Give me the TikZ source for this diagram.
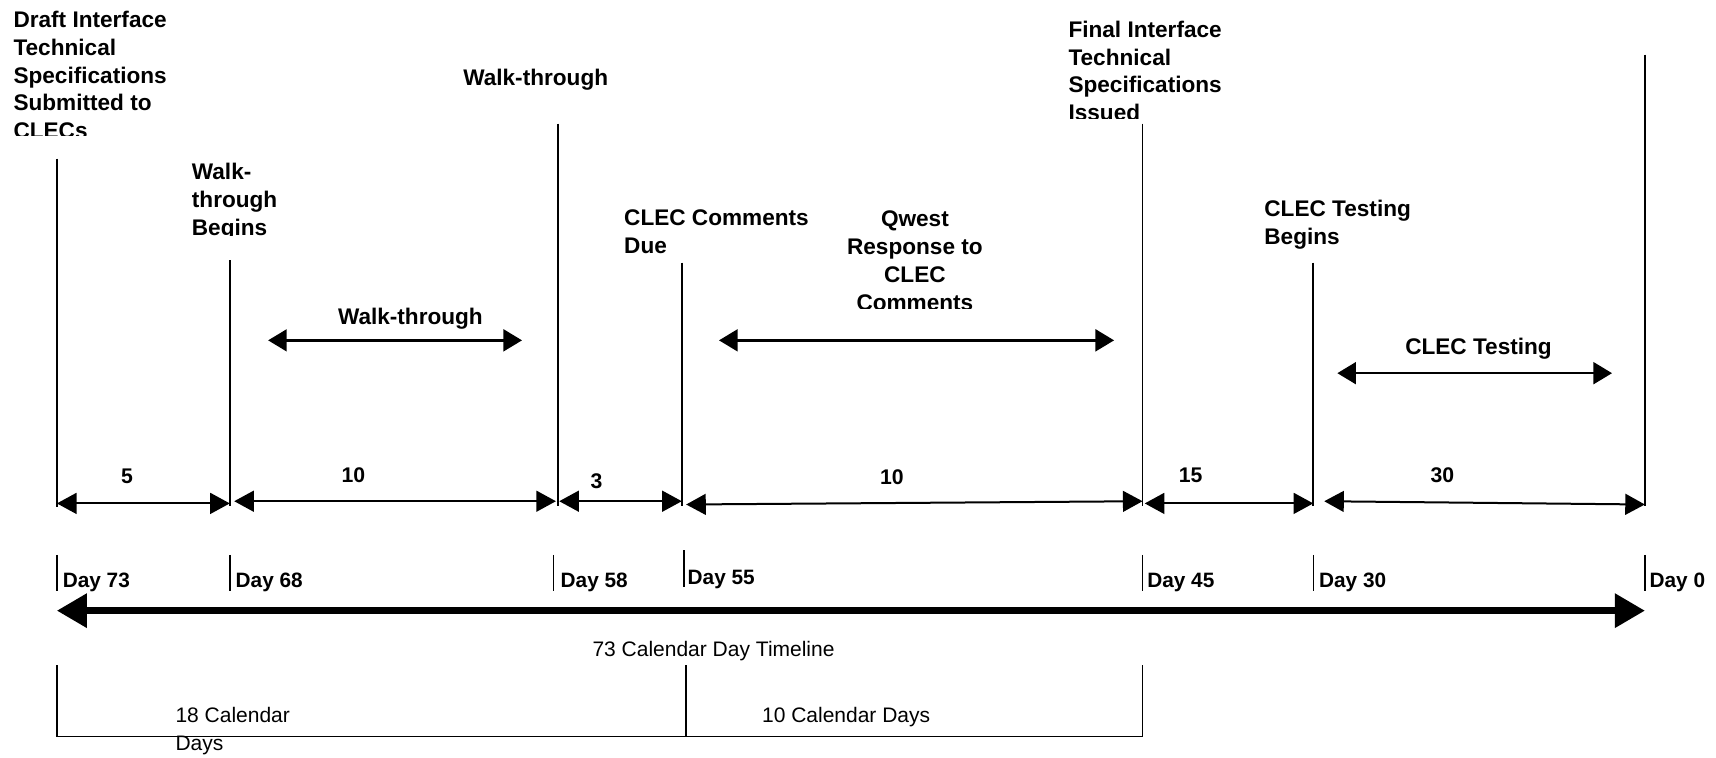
\documentclass[tikz,border=0pt]{standalone}
\usepackage{fontspec}
\setmainfont{Liberation Sans}
\usetikzlibrary{arrows.meta}
\begin{document}
\begin{tikzpicture}[x=0.5472pt,y=-0.5472pt,
  toplbl/.style={inner sep=0pt, font=\fontsize{11.3}{13.95}\selectfont\bfseries, align=left, anchor=north west},
  midlbl/.style={inner sep=0pt, font=\fontsize{11.3}{13.95}\selectfont\bfseries},
  numlbl/.style={inner sep=0pt, font=\fontsize{10.6}{12}\selectfont\bfseries},
  daylbl/.style={inner sep=0pt, font=\fontsize{10.4}{12}\selectfont\bfseries, anchor=base west},
  reglbl/.style={inner sep=0pt, font=\fontsize{10.5}{14.2}\selectfont, align=left},
  vline/.style={line width=0.8pt},
  tick/.style={line width=0.7pt},
  dimarrow/.style={line width=1pt, {Triangle[length=9.8pt,width=10.4pt]}-{Triangle[length=9.8pt,width=10.4pt]}},
  midarrow/.style={line width=1.2pt, {Triangle[length=9.3pt,width=10.9pt]}-{Triangle[length=9.3pt,width=10.9pt]}},
  mainarrow/.style={line width=3.2pt, {Triangle[length=15pt,width=16.5pt]}-{Triangle[length=15pt,width=16.5pt]}},
  bracket/.style={line width=0.8pt}
]
\useasboundingbox (0,0) rectangle (1568,692);

% milestone vertical lines
\coordinate (t73) at (52,145);   \coordinate (b73) at (52,463);
\coordinate (t68) at (210,238);  \coordinate (b68) at (210,462);
\coordinate (t58) at (510,113);  \coordinate (b58) at (510,462);
\coordinate (t55) at (623,240);  \coordinate (b55) at (623,462);
\coordinate (t45) at (1044,113); \coordinate (b45) at (1044,462);
\coordinate (t30) at (1200,240); \coordinate (b30) at (1200,462);
\coordinate (t0)  at (1503,50);  \coordinate (b0)  at (1503,462);
\foreach \n in {73,68,58,55,45,30,0} \draw[vline] (t\n) -- (b\n);

% milestone labels
\begin{scope}
  \clip (0,0) rectangle (400,124);
  \node[toplbl] (draft) at (12,9.6) {Draft Interface\\Technical\\Specifications\\Submitted to\\CLECs};
\end{scope}
\begin{scope}
  \clip (150,130) rectangle (400,215);
  \node[toplbl] (wtbegins) at (175,148.6) {Walk-\\through\\Begins};
\end{scope}
\node[toplbl] (wttop) at (423,62.6) {Walk-through};
\node[toplbl] (ccdue) at (570,191.6) {CLEC Comments\\Due};
\begin{scope}
  \clip (700,150) rectangle (980,281.5);
  \node[midlbl, align=center, anchor=north] (qwest) at (836,192.6) {Qwest\\Response to\\CLEC\\Comments};
\end{scope}
\begin{scope}
  \clip (960,0) rectangle (1300,108);
  \node[toplbl] (final) at (976,18.6) {Final Interface\\Technical\\Specifications\\Issued};
\end{scope}
\node[toplbl] (ctbegins) at (1155,182.6) {CLEC Testing\\Begins};

% activity arrows
\node[midlbl] (wtmid) at (375,291) {Walk-through};
\coordinate (wtl) at (245,311); \coordinate (wtr) at (477,311);
\draw[midarrow] (wtl) -- (wtr);
\coordinate (qwl) at (657,311); \coordinate (qwr) at (1018,311);
\draw[midarrow] (qwl) -- (qwr);
\node[midlbl] (ctmid) at (1351,319) {CLEC Testing};
\coordinate (ctl) at (1222,341); \coordinate (ctr) at (1473,341);
\draw[midarrow] (ctl) -- (ctr);

% duration dimension arrows
\coordinate (d1l) at (52,460);   \coordinate (d1r) at (210,460);
\coordinate (d2l) at (214,458);  \coordinate (d2r) at (508,458);
\coordinate (d3l) at (511,458);  \coordinate (d3r) at (623,458);
\coordinate (d4l) at (627,461);  \coordinate (d4r) at (1044,458);
\coordinate (d5l) at (1046,460); \coordinate (d5r) at (1200,460);
\coordinate (d6l) at (1210,458); \coordinate (d6r) at (1503,461);
\foreach \i in {1,...,6} \draw[dimarrow] (d\i l) -- (d\i r);
\node[numlbl] (n5)  at (116,435) {5};
\node[numlbl] (n10a) at (323,434) {10};
\node[numlbl] (n3)  at (545,440) {3};
\node[numlbl] (n10b) at (815,436) {10};
\node[numlbl] (n15) at (1088,434) {15};
\node[numlbl] (n30) at (1318,434) {30};

% day ticks and labels
\coordinate (k73u) at (52,507);   \coordinate (k73d) at (52,540);
\coordinate (k68u) at (210,507);  \coordinate (k68d) at (210,540);
\coordinate (k58u) at (506,507);  \coordinate (k58d) at (506,540);
\coordinate (k55u) at (625,503);  \coordinate (k55d) at (625,536);
\coordinate (k45u) at (1044,507); \coordinate (k45d) at (1044,540);
\coordinate (k30u) at (1200,507); \coordinate (k30d) at (1200,540);
\coordinate (k0u)  at (1503,507); \coordinate (k0d)  at (1503,540);
\foreach \n in {73,68,58,55,45,30,0} \draw[tick] (k\n u) -- (k\n d);
\node[daylbl] (day73) at (57,537) {Day 73};
\node[daylbl] (day68) at (215,537) {Day 68};
\node[daylbl] (day58) at (512,537) {Day 58};
\node[daylbl] (day55) at (628,534) {Day 55};
\node[daylbl] (day45) at (1048,537) {Day 45};
\node[daylbl] (day30) at (1205,537) {Day 30};
\node[daylbl] (day0)  at (1507,537) {Day 0};

% main timeline
\coordinate (ml) at (52,558); \coordinate (mr) at (1503,558);
\draw[mainarrow] (ml) -- (mr);
\node[reglbl, anchor=base] (timeline) at (652,600) {73 Calendar Day Timeline};

% bottom bracket
\coordinate (bA) at (52,608);   \coordinate (bAd) at (52,673);
\coordinate (bB) at (627,608);  \coordinate (bBd) at (627,673);
\coordinate (bC) at (1044,608); \coordinate (bCd) at (1044,673);
\draw[bracket] (bA) -- (bAd) -- (bCd) -- (bC);
\draw[bracket] (bB) -- (bBd);
\node[reglbl, anchor=north west] (cal18) at (160,646) {18 Calendar\\Days};
\node[reglbl, anchor=base west] (cal10) at (696,660) {10 Calendar Days};
\end{tikzpicture}
\end{document}
